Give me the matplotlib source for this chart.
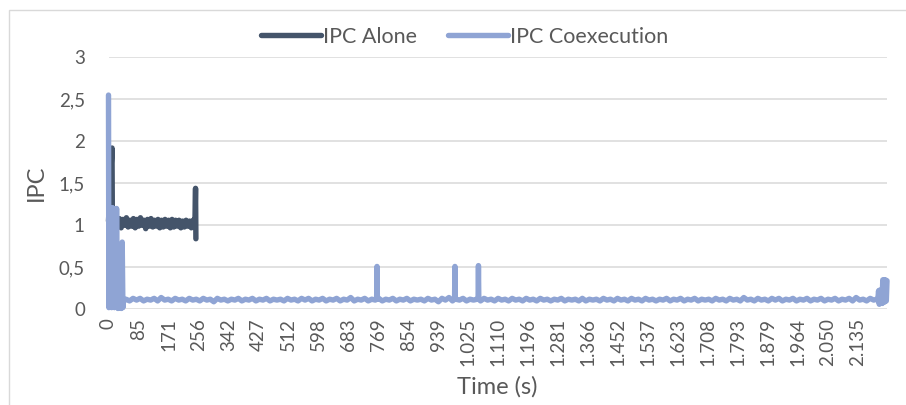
import numpy as np
import matplotlib
matplotlib.use("Agg")
import matplotlib.pyplot as plt
from matplotlib.patches import Rectangle

# ---- data -------------------------------------------------------------
# IPC when the application runs alone (time in seconds)
alone_t = [0, 10] + list(range(11, 247, 5)) + [248, 249]
alone_ipc = [1.05, 1.92,
             1.06, 0.98, 1.09, 0.99, 1.08, 0.97, 1.07, 1.00, 1.09, 0.98,
             1.06, 0.99, 1.08, 0.97, 1.07, 0.99, 1.09, 1.00, 1.06, 0.96,
             1.07, 0.99, 1.08, 0.98, 1.06, 0.99, 1.07, 0.97, 1.06, 0.98,
             1.07, 0.99, 1.06, 0.97, 1.07, 0.98, 1.06, 0.99, 1.06, 0.97,
             1.05, 0.98, 1.06, 0.99, 1.05, 0.97, 1.06, 0.98,
             1.44, 0.84]

# IPC under co-execution: start-up phase
coex_start_t = [0, 1, 3, 5, 7, 9, 11, 13, 15, 17, 19, 21, 23, 25, 26, 27,
                28, 31, 34, 36, 39, 41, 43, 46]
coex_start_ipc = [2.55, 0.02, 1.20, 0.03, 1.19, 0.02, 1.21, 0.03, 1.20, 0.02,
                  1.19, 0.03, 1.20, 0.02, 0.36, 0.01, 0.12, 0.10, 0.13, 0.01,
                  0.80, 0.02, 0.12, 0.11]

# steady phase, one sample every 10 s from t = 50 s to t = 2190 s
coex_steady_t = np.arange(50, 2191, 10)
coex_steady_ipc = [
    0.12, 0.10, 0.13, 0.11, 0.13, 0.10, 0.12, 0.11, 0.13, 0.10, 0.14, 0.11, 0.12, 0.10, 0.13, 0.11, 0.12, 0.10, 0.13, 0.11,
    0.12, 0.10, 0.13, 0.11, 0.12, 0.09, 0.13, 0.11, 0.12, 0.10, 0.12, 0.11, 0.13, 0.10, 0.12, 0.11, 0.13, 0.10, 0.12, 0.11,
    0.13, 0.10, 0.12, 0.11, 0.12, 0.10, 0.13, 0.11, 0.12, 0.10, 0.13, 0.11, 0.13, 0.10, 0.12, 0.11, 0.13, 0.10, 0.12, 0.11,
    0.13, 0.10, 0.12, 0.11, 0.14, 0.10, 0.12, 0.11, 0.13, 0.10, 0.12, 0.11, 0.13, 0.10, 0.12, 0.11, 0.13, 0.10, 0.12, 0.11,
    0.13, 0.10, 0.12, 0.11, 0.12, 0.10, 0.13, 0.11, 0.12, 0.09, 0.13, 0.11, 0.14, 0.10, 0.12, 0.11, 0.13, 0.10, 0.12, 0.11,
    0.12, 0.10, 0.13, 0.11, 0.12, 0.10, 0.13, 0.11, 0.12, 0.10, 0.13, 0.11, 0.12, 0.10, 0.13, 0.11, 0.12, 0.10, 0.13, 0.11,
    0.12, 0.10, 0.12, 0.11, 0.13, 0.10, 0.12, 0.11, 0.12, 0.10, 0.13, 0.10, 0.12, 0.11, 0.12, 0.10, 0.13, 0.11, 0.12, 0.10,
    0.13, 0.11, 0.12, 0.10, 0.13, 0.11, 0.12, 0.10, 0.13, 0.11, 0.12, 0.10, 0.12, 0.11, 0.13, 0.10, 0.12, 0.11, 0.13, 0.10,
    0.12, 0.11, 0.13, 0.10, 0.12, 0.11, 0.12, 0.10, 0.13, 0.11, 0.12, 0.10, 0.13, 0.11, 0.12, 0.10, 0.14, 0.11, 0.12, 0.10,
    0.13, 0.11, 0.12, 0.10, 0.13, 0.11, 0.13, 0.10, 0.12, 0.11, 0.13, 0.10, 0.12, 0.11, 0.13, 0.10, 0.12, 0.11, 0.13, 0.10,
    0.12, 0.11, 0.13, 0.10, 0.12, 0.11, 0.13, 0.10, 0.14, 0.11, 0.12, 0.10, 0.13, 0.11, 0.12,
]

# short bursts during the steady phase
coex_burst_t = [764, 765, 766, 986, 987, 988, 1053, 1054, 1055]
coex_burst_ipc = [0.12, 0.51, 0.12, 0.12, 0.51, 0.12, 0.12, 0.52, 0.12]

# final phase
coex_end_t = [2192, 2194, 2196, 2198, 2200, 2202, 2204, 2206, 2208, 2210,
              2212, 2214, 2216, 2218]
coex_end_ipc = [0.12, 0.22, 0.06, 0.23, 0.08, 0.22, 0.07, 0.35, 0.08, 0.35,
                0.09, 0.35, 0.10, 0.34]

x_tick_labels = ["0", "85", "171", "256", "342", "427", "512", "598", "683",
                 "769", "854", "939", "1.025", "1.110", "1.196", "1.281",
                 "1.366", "1.452", "1.537", "1.623", "1.708", "1.793",
                 "1.879", "1.964", "2.050", "2.135"]
y_ticks = [0, 0.5, 1, 1.5, 2, 2.5, 3]
y_tick_labels = ["0", "0,5", "1", "1,5", "2", "2,5", "3"]

# ---- assemble the co-execution series in time order --------------------
coex_t = np.concatenate([coex_start_t, coex_steady_t, coex_burst_t, coex_end_t]).astype(float)
coex_ipc = np.concatenate([coex_start_ipc, coex_steady_ipc, coex_burst_ipc, coex_end_ipc])
order = np.argsort(coex_t, kind="stable")
coex_t, coex_ipc = coex_t[order], coex_ipc[order]

x_ticks = [float(s.replace(".", "")) for s in x_tick_labels]

# ---- figure -----------------------------------------------------------
W, H = 906, 405
fig = plt.figure(figsize=(W / 100, H / 100), dpi=100)
plt.rcParams["font.family"] = ["Lato", "DejaVu Sans"]

text_col = "#595959"
grid_col = "#d9d9d9"
alone_col = "#44546a"
coex_col = "#8fa4d4"
tick_size = 13.5
legend_size = 15.5
title_size = 17

left, right, top, bottom = 108.5, 887, 57.3, 309.3
ax = fig.add_axes([left / W, 1 - bottom / H, (right - left) / W, (bottom - top) / H])

lw = 3.9
ax.plot(alone_t, alone_ipc, color=alone_col, lw=lw, solid_joinstyle="round",
        solid_capstyle="round", clip_on=False, label="IPC Alone", zorder=3)
ax.plot(coex_t, coex_ipc, color=coex_col, lw=lw, solid_joinstyle="round",
        solid_capstyle="round", clip_on=False, label="IPC Coexecution", zorder=4)

ax.set_xlim(0, 2218)
ax.set_ylim(0, 3)
ax.set_yticks(y_ticks)
ax.set_yticklabels(y_tick_labels)
ax.set_xticks(x_ticks)
ax.set_xticklabels(x_tick_labels, rotation=90)
ax.tick_params(axis="both", length=0, labelsize=tick_size, labelcolor=text_col)
ax.tick_params(axis="y", pad=17)
ax.tick_params(axis="x", pad=6.3)
ax.grid(axis="y", color=grid_col, lw=1.1)
ax.set_axisbelow(True)
for sp in ax.spines.values():
    sp.set_visible(False)

fig.text(36 / W, 1 - 183 / H, "IPC", rotation=90, ha="center", va="center",
         fontsize=title_size, color=text_col)
fig.text(497 / W, 1 - 387 / H, "Time (s)", ha="center", va="center",
         fontsize=title_size, color=text_col)

leg = ax.legend(loc="center", bbox_to_anchor=(465 / W, 1 - 37 / H),
                bbox_transform=fig.transFigure, ncol=2, frameon=False,
                fontsize=legend_size, handlelength=2.75, handletextpad=0.12,
                columnspacing=1.45, borderaxespad=0, borderpad=0)
for t in leg.get_texts():
    t.set_color(text_col)

# chart-area border
fig.patches.append(Rectangle((9 / W, -0.05), 1.1, 1 - 10 / H + 0.05,
                             transform=fig.transFigure, fill=False,
                             edgecolor=grid_col, lw=1.0))

fig.savefig("out.png", dpi=100)
